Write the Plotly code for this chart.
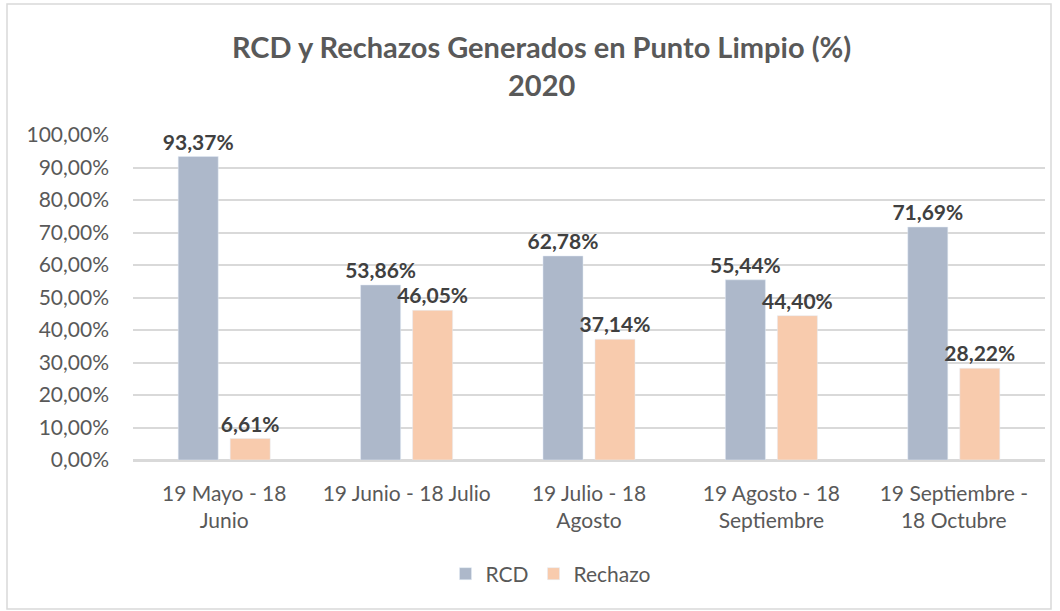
import plotly.graph_objects as go

categories = ["19 Mayo - 18<br>Junio", "19 Junio - 18 Julio", "19 Julio - 18<br>Agosto",
              "19 Agosto - 18<br>Septiembre", "19 Septiembre -<br>18 Octubre"]
rcd = [93.37, 53.86, 62.78, 55.44, 71.69]
rechazo = [6.61, 46.05, 37.14, 44.40, 28.22]
y_ticks = [0, 10, 20, 30, 40, 50, 60, 70, 80, 90, 100]
y_tick_text = [f"{v:.2f}".replace(".", ",") + "%" for v in y_ticks]

FONT = "Lato"
LABEL_FONT = dict(family=FONT, size=21, color="#404040", weight="bold")
fig = go.Figure()
fig.add_trace(go.Bar(x=categories, y=rcd, name="RCD", marker_color="#ADB8CA",
                     texttemplate="%{y:.2f}%", textposition="outside", cliponaxis=False,
                     constraintext="none", textfont=LABEL_FONT))
fig.add_trace(go.Bar(x=categories, y=rechazo, name="Rechazo", marker_color="#F8CBAD",
                     texttemplate="%{y:.2f}%", textposition="outside", cliponaxis=False,
                     constraintext="none", textfont=LABEL_FONT))

W, H = 1060, 611
L, R, T, B = 133, 15, 135, 151
pw, ph = W - L - R, H - T - B

fig.update_layout(
    width=W, height=H,
    margin=dict(l=L, r=R, t=T, b=B),
    paper_bgcolor="white", plot_bgcolor="white",
    separators=",.",
    barmode="group", bargap=0.43, bargroupgap=0.23,
    font=dict(family=FONT, color="#595959", size=20),
    title=dict(text="RCD y Rechazos Generados en Punto Limpio (%)<br>2020",
               x=0.511, xanchor="center", y=1 - 58 / H, yanchor="middle",
               font=dict(family=FONT, size=29, color="#595959", weight="bold")),
    legend=dict(orientation="h", x=(551 - L) / pw, xanchor="center",
                y=(0 - (574 - (T + ph))) / ph, yanchor="middle",
                font=dict(family=FONT, size=21, color="#595959")),
    yaxis=dict(range=[0, 100], tickvals=y_ticks, ticktext=y_tick_text,
               showgrid=True, gridcolor="#D9D9D9", gridwidth=1.5, zeroline=True,
               zerolinecolor="#D9D9D9", zerolinewidth=1.5, showline=False, ticks="",
               ticklabelstandoff=23, tickfont=dict(family=FONT, size=21, color="#595959")),
    xaxis=dict(showline=True, linecolor="#D9D9D9", linewidth=1.5, ticks="",
               ticklabelstandoff=14,
               tickfont=dict(family=FONT, size=21, color="#595959")),
    showlegend=True,
)

# chart border
fig.add_shape(type="rect", xref="paper", yref="paper",
              x0=(7 - L) / pw, x1=(1051 - L) / pw,
              y0=(T + ph - 609) / ph, y1=(T + ph - 4) / ph,
              line=dict(color="#D9D9D9", width=1.5), fillcolor="rgba(0,0,0,0)", layer="below")

fig.write_html("out.html", config={"displayModeBar": False},
               post_script="document.body.style.margin='0';")
